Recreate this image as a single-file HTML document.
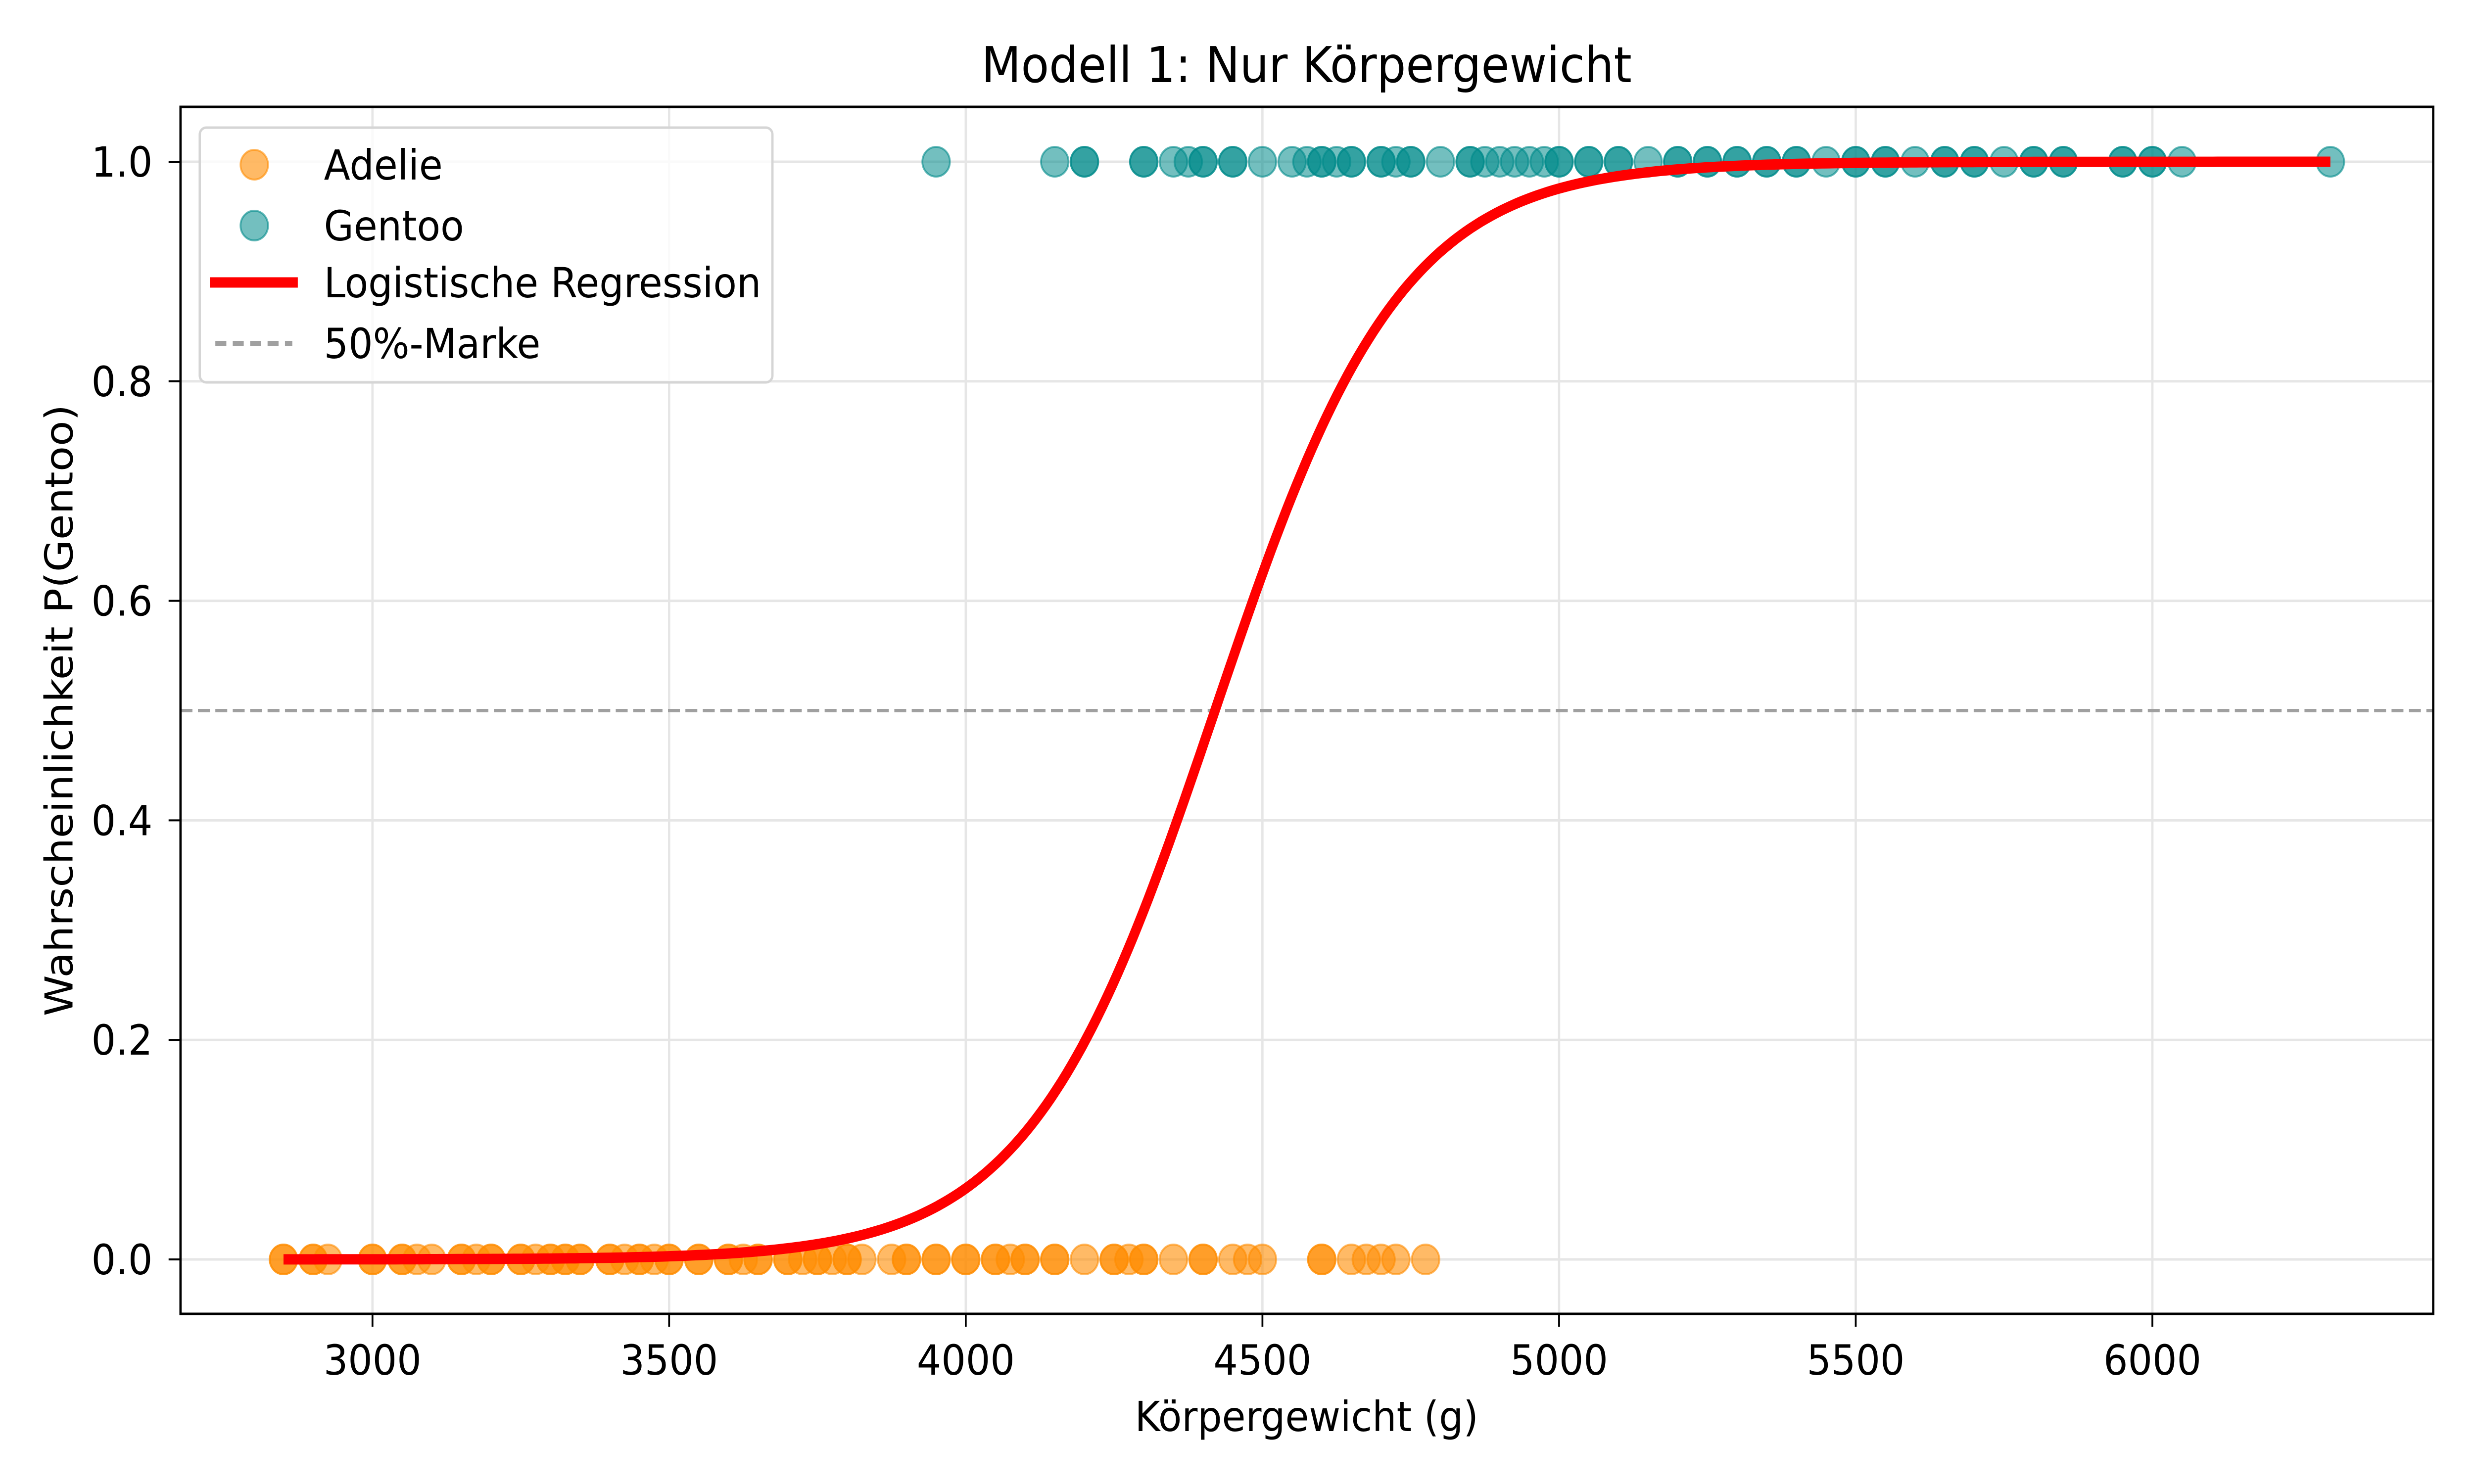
<!DOCTYPE html>
<html><head><meta charset="utf-8"><style>
html,body{margin:0;padding:0;background:#fff;width:100%;height:100%;overflow:hidden}
svg{display:block;width:100vw;height:100vh}
text{font-family:"DejaVu Sans","Liberation Sans",sans-serif;fill:#000}
</style></head><body>
<svg id="chart" viewBox="0 0 5400 3000" preserveAspectRatio="none" xmlns="http://www.w3.org/2000/svg">
<rect width="5400" height="3000" fill="#fff"/>
<g id="grid"></g>
<g id="refline"></g>
<g id="adelie"></g>
<g id="gentoo"></g>
<g id="curve"></g>
<rect x="394" y="216" width="4917" height="2440" fill="none" stroke="#000" stroke-width="5"/>
<g id="xticks"></g>
<g id="yticks"></g>
<text x="2852" y="166" font-size="100" text-anchor="middle">Modell 1: Nur Körpergewicht</text>
<text x="2852" y="2893" font-size="84" text-anchor="middle">Körpergewicht (g)</text>
<text x="158" y="1436" font-size="84" text-anchor="middle" transform="rotate(-90 158 1436)">Wahrscheinlichkeit P(Gentoo)</text>
<g>
<rect x="436" y="258" width="1250" height="515" rx="14" fill="#fff" fill-opacity="0.8" stroke="#d5d5d5" stroke-width="5"/>
<g>
<circle cx="555" cy="333" r="30" fill="#ff8c00" fill-opacity="0.6" stroke="#ff8c00" stroke-opacity="0.6" stroke-width="4"/>
<text x="707" y="363" font-size="84">Adelie</text></g>
<g>
<circle cx="555" cy="456" r="30" fill="#008b8b" fill-opacity="0.55" stroke="#008b8b" stroke-opacity="0.6" stroke-width="4"/>
<text x="707" y="486" font-size="84">Gentoo</text></g>
<g>
<line x1="458" y1="571" x2="650" y2="571" stroke="#ff0000" stroke-width="21"/>
<text x="707" y="601" font-size="84">Logistische Regression</text></g>
<g>
<line x1="470" y1="694" x2="638" y2="694" stroke="#a0a0a0" stroke-width="10" stroke-dasharray="24,14"/>
<text x="707" y="724" font-size="84">50%-Marke</text></g>
</g>
</svg>
<script>
const xTicks=[3000,3500,4000,4500,5000,5500,6000];
const yTicks=[0,0.2,0.4,0.6,0.8,1.0];
const yTickLabels=["0.0","0.2","0.4","0.6","0.8","1.0"];
const adelieWeights=[2850,2850,2900,2900,2925,3000,3000,3050,3050,3075,3100,3150,3150,3175,3200,3200,3250,3250,3275,3300,3300,3325,3325,3350,3350,3400,3400,3425,3450,3450,3475,3500,3500,3550,3550,3600,3600,3625,3650,3650,3700,3700,3725,3750,3750,3775,3800,3800,3825,3875,3900,3900,3950,3950,4000,4000,4050,4050,4075,4100,4100,4150,4150,4200,4250,4250,4275,4300,4300,4350,4400,4400,4450,4475,4500,4600,4600,4650,4675,4700,4725,4775];
const gentooWeights=[3950,4150,4200,4200,4300,4300,4350,4375,4400,4400,4450,4450,4500,4550,4575,4600,4600,4625,4650,4650,4700,4700,4725,4750,4750,4800,4850,4850,4875,4900,4925,4950,4975,5000,5000,5050,5050,5100,5100,5150,5200,5200,5250,5250,5300,5300,5350,5350,5400,5400,5450,5500,5500,5550,5550,5600,5650,5650,5700,5700,5750,5800,5800,5850,5850,5950,5950,6000,6000,6050,6300];
const logitMidpoint=[4420];
const logitSlope=[0.00636];
const curveRange=[2850,6300];
const refLevel=[0.5];

const NS="http://www.w3.org/2000/svg";
const L=394,R=5311,T=216,B=2656;
function xs(v){return 813+(v-3000)*(647.5/500);}
function ys(v){return 2546-v*(2546-327);}
function mk(tag,attrs,parent){const e=document.createElementNS(NS,tag);for(const k in attrs)e.setAttribute(k,attrs[k]);parent.appendChild(e);return e;}
const grid=document.getElementById('grid');
const xt=document.getElementById('xticks');
const yt=document.getElementById('yticks');
xTicks.forEach(t=>{
  const x=xs(t);
  const g=mk('line',{x1:x,x2:x,y1:T,y2:B,stroke:'#e6e6e6','stroke-width':5},grid);
  
  
  const tk=mk('line',{x1:x,x2:x,y1:B,y2:B+26,stroke:'#000','stroke-width':4},xt);
  
  
  const lb=mk('text',{x:x,y:2779,'font-size':84,'text-anchor':'middle'},xt);
  lb.textContent=t;
  
  
});
yTicks.forEach((t,i)=>{
  const y=ys(t);
  const g=mk('line',{x1:L,x2:R,y1:y,y2:y,stroke:'#e6e6e6','stroke-width':5},grid);
  
  
  const tk=mk('line',{x1:L-26,x2:L,y1:y,y2:y,stroke:'#000','stroke-width':4},yt);
  
  
  const lb=mk('text',{x:333,y:y+30,'font-size':84,'text-anchor':'end'},yt);
  lb.textContent=yTickLabels[i];
  
  
});
const rl=mk('line',{x1:L,x2:R,y1:ys(refLevel[0]),y2:ys(refLevel[0]),stroke:'#a0a0a0','stroke-width':7,'stroke-dasharray':'26,12'},document.getElementById('refline'));


const ad=document.getElementById('adelie');
adelieWeights.forEach(w=>{
  const c=mk('circle',{cx:xs(w),cy:ys(0),r:30,fill:'#ff8c00','fill-opacity':0.6,stroke:'#ff8c00','stroke-opacity':0.6,'stroke-width':4},ad);
  
  
});
const ge=document.getElementById('gentoo');
gentooWeights.forEach(w=>{
  const c=mk('circle',{cx:xs(w),cy:ys(1),r:30,fill:'#008b8b','fill-opacity':0.55,stroke:'#008b8b','stroke-opacity':0.6,'stroke-width':4},ge);
  
  
});
let d='';
for(let i=0;i<=400;i++){
  const w=curveRange[0]+(curveRange[1]-curveRange[0])*i/400;
  const p=1/(1+Math.exp(-logitSlope[0]*(w-logitMidpoint[0])));
  d+=(i?'L':'M')+xs(w).toFixed(1)+','+ys(p).toFixed(1);
}
const cp=mk('path',{d:d,fill:'none',stroke:'#ff0000','stroke-width':21},document.getElementById('curve'));


</script>
</body></html>
